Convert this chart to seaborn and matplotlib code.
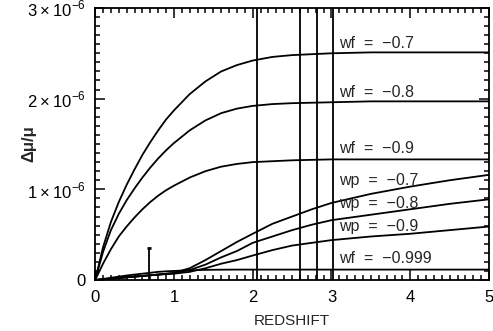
import numpy as np
import pandas as pd
import matplotlib
matplotlib.use("Agg")
import matplotlib.pyplot as plt
import seaborn as sns
from matplotlib.ticker import MultipleLocator, FuncFormatter

# redshift grids and curves (values in units of 1e-6)
z_wf = [0, 0.1, 0.2, 0.3, 0.4, 0.5, 0.6, 0.7, 0.8, 0.9, 1.0, 1.2, 1.4, 1.6, 1.8,
        2.0, 2.25, 2.5, 3.0, 3.5, 4.0, 4.5, 5.0]
wf_07 = [0, 0.36, 0.64, 0.86, 1.05, 1.22, 1.38, 1.52, 1.65, 1.77, 1.87, 2.05, 2.19,
         2.30, 2.37, 2.42, 2.46, 2.48, 2.50, 2.51, 2.51, 2.51, 2.51]
wf_08 = [0, 0.31, 0.55, 0.73, 0.88, 1.01, 1.13, 1.24, 1.34, 1.43, 1.51, 1.65, 1.76,
         1.84, 1.89, 1.92, 1.94, 1.95, 1.96, 1.97, 1.97, 1.97, 1.97]
wf_09 = [0, 0.18, 0.34, 0.48, 0.59, 0.69, 0.78, 0.86, 0.93, 0.99, 1.04, 1.13, 1.20,
         1.25, 1.28, 1.30, 1.31, 1.32, 1.33, 1.33, 1.33, 1.33, 1.33]
wf_0999 = [0, 0.012, 0.025, 0.037, 0.05, 0.06, 0.07, 0.08, 0.09, 0.096, 0.10, 0.108,
           0.112, 0.114, 0.115, 0.115, 0.115, 0.115, 0.115, 0.115, 0.115, 0.115, 0.115]

z_wp = [0, 0.2, 0.4, 0.6, 0.8, 1.0, 1.2, 1.4, 1.6, 1.8, 2.0, 2.25, 2.5, 2.75, 3.0,
        3.5, 4.0, 4.5, 5.0]
wp_07 = [0, 0.015, 0.03, 0.045, 0.06, 0.08, 0.13, 0.22, 0.32, 0.42, 0.51, 0.62, 0.70,
         0.78, 0.85, 0.95, 1.03, 1.10, 1.16]
wp_08 = [0, 0.015, 0.03, 0.045, 0.06, 0.075, 0.11, 0.17, 0.25, 0.32, 0.41, 0.48, 0.55,
         0.61, 0.66, 0.72, 0.78, 0.84, 0.89]
wp_09 = [0, 0.015, 0.03, 0.045, 0.06, 0.07, 0.09, 0.13, 0.18, 0.22, 0.27, 0.33, 0.38,
         0.41, 0.44, 0.48, 0.51, 0.55, 0.59]

curves = {
    "wf  =  \u22120.7": (z_wf, wf_07),
    "wf  =  \u22120.8": (z_wf, wf_08),
    "wf  =  \u22120.9": (z_wf, wf_09),
    "wp  =  \u22120.7": (z_wp, wp_07),
    "wp  =  \u22120.8": (z_wp, wp_08),
    "wp  =  \u22120.9": (z_wp, wp_09),
    "wf  =  \u22120.999": (z_wf, wf_0999),
}
label_y = [2.61, 2.07, 1.45, 1.095, 0.845, 0.59, 0.24]

vlines_z = [2.05, 2.60, 2.81, 3.02]
point_z = [0.68]
point_err = [0.35]

rows = []
for name, (zs, vals) in curves.items():
    for zz, v in zip(zs, vals):
        rows.append({"z": zz, "dmu": v * 1e-6, "curve": name})
df = pd.DataFrame(rows)

sns.set_style("ticks")
plt.rcParams["font.family"] = ["Liberation Sans", "DejaVu Sans"]
plt.rcParams["mathtext.fontset"] = "custom"
plt.rcParams["mathtext.rm"] = "Liberation Sans"

fig, ax = plt.subplots(figsize=(4.93, 3.31), dpi=100)
fig.subplots_adjust(left=0.193, right=0.992, bottom=0.154, top=0.976)

sns.lineplot(data=df, x="z", y="dmu", units="curve", estimator=None,
             color="black", lw=1.3, ax=ax)

for zv in vlines_z:
    ax.axvline(zv, color="black", lw=1.3)

ax.errorbar(point_z, [0], yerr=[e * 1e-6 for e in point_err], fmt="none",
            ecolor="black", elinewidth=1.3, capsize=1.5, capthick=2)

for name, ly in zip(curves.keys(), label_y):
    ax.text(3.1, ly * 1e-6, name, fontsize=11.5, va="center", ha="left")

ax.set_xlim(0, 5)
ax.set_ylim(0, 3e-6)
ax.xaxis.set_major_locator(MultipleLocator(1))
ax.xaxis.set_minor_locator(MultipleLocator(0.1))
ax.yaxis.set_major_locator(MultipleLocator(1e-6))
ax.yaxis.set_minor_locator(MultipleLocator(0.1e-6))


def yfmt(v, pos):
    n = int(round(v * 1e6))
    if n == 0:
        return "0"
    return r"$%d\times10^{-6}$" % n


ax.yaxis.set_major_formatter(FuncFormatter(yfmt))
ax.tick_params(which="both", direction="in", top=True, right=True, width=1.1,
               labelsize=12, colors="black")
ax.tick_params(which="major", length=7, pad=7)
ax.tick_params(which="minor", length=3.5)
for s in ax.spines.values():
    s.set_visible(True)
    s.set_linewidth(1.3)
    s.set_color("black")

ax.set_xlabel("REDSHIFT", fontsize=11, labelpad=7)
ax.set_ylabel("\u0394\u03bc/\u03bc", fontsize=12, fontweight="bold", labelpad=-7)

fig.savefig("out.png", dpi=100)
